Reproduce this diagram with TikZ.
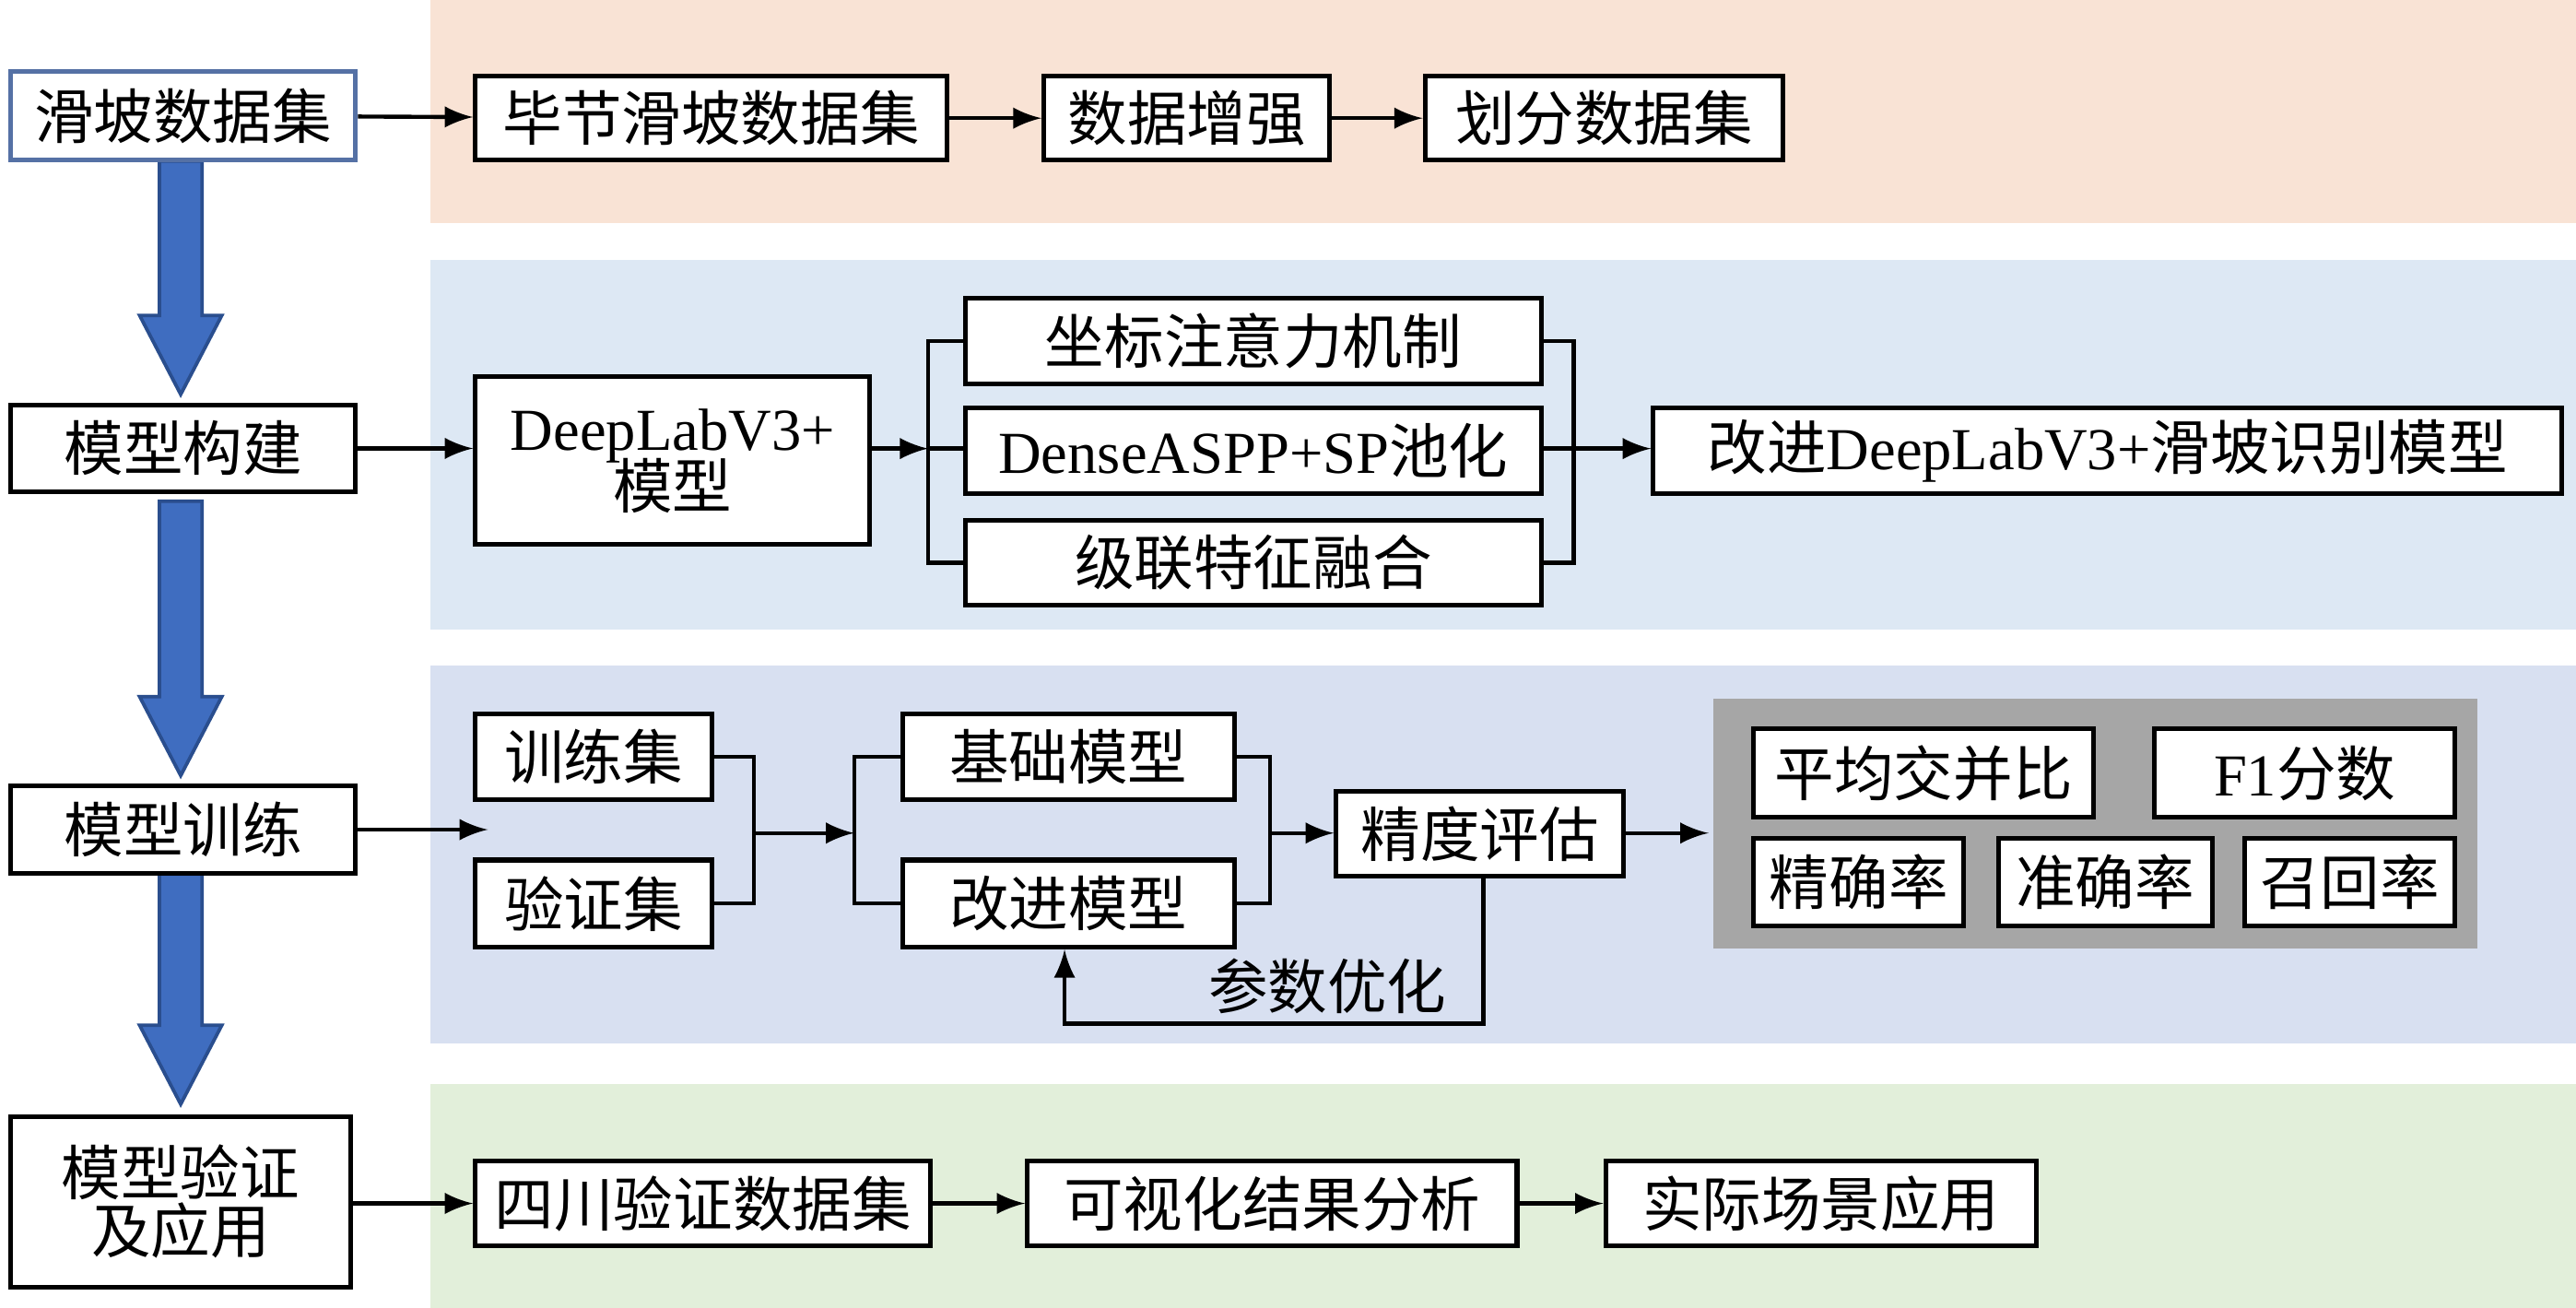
\documentclass[tikz,border=0pt]{standalone}
\usepackage{fontspec}
\setmainfont{Noto Sans CJK SC}
\newfontfamily\lat{Liberation Serif}
\usetikzlibrary{shapes.arrows}
\definecolor{bandO}{HTML}{F9E3D5}
\definecolor{bandB}{HTML}{DDE8F4}
\definecolor{bandL}{HTML}{D8E0F1}
\definecolor{bandG}{HTML}{E2EFDA}
\definecolor{bigA}{HTML}{3F6DC0}
\definecolor{bigAb}{HTML}{2A4E8E}
\begin{document}
\begin{tikzpicture}[x=0.01cm,y=-0.01cm,
  box/.style={draw=black,line width=0.8pt,fill=white,inner sep=0pt,font=\fontsize{10.3}{12}\selectfont,align=center},
  ar/.style={-latex,line width=0.7pt},
  ln/.style={line width=0.7pt},
  big/.style={fill=bigA,draw=bigAb,line width=0.6pt}]
\useasboundingbox (0,0) rectangle (1568,796);
\fill[bandO] (262,0) rectangle (1568,136);
\fill[bandB] (262,158) rectangle (1568,383);
\fill[bandL] (262,405) rectangle (1568,635);
\fill[bandG] (262,660) rectangle (1568,796);
% big arrows
\foreach \a/\b in {98/240,305/472,532/672}{
  \fill[big] (97,\a) -- (123,\a) -- (123,\b-48) -- (135,\b-48) -- (110,\b) -- (85,\b-48) -- (97,\b-48) -- cycle;}
% left boxes
\newcommand{\bx}[6]{\node[box,minimum width={(#4-#2)*0.01cm},minimum height={(#5-#3)*0.01cm},anchor=north west] (#1) at (#2,#3) {#6};}
\node[box,draw=bigAb!80,minimum width=2.1cm,minimum height=0.54cm,anchor=north west] (L1) at (5,42) {滑坡数据集};
\bx{L2}{5}{245}{215}{298}{模型构建}
\bx{L3}{5}{477}{215}{530}{模型训练}
\bx{L4}{5}{678}{212}{782}{模型验证\\[-2pt]及应用}
% row1
\bx{a1}{288}{45}{575}{96}{毕节滑坡数据集}
\bx{a2}{634}{45}{808}{96}{数据增强}
\bx{a3}{866}{45}{1084}{96}{划分数据集}
\draw[ar] (L1) -- (a1); \draw[ar] (a1) -- (a2); \draw[ar] (a2) -- (a3);
% row2
\bx{b0}{288}{228}{528}{330}{{\lat DeepLabV3+}\\[-2pt]模型}
\bx{b1}{586}{180}{937}{232}{坐标注意力机制}
\bx{b2}{586}{247}{937}{299}{{\lat DenseASPP+SP}池化}
\bx{b3}{586}{315}{937}{367}{级联特征融合}
\bx{b4}{1005}{247}{1558}{299}{改进{\lat DeepLabV3+}滑坡识别模型}
\coordinate (bl) at (565,273); \coordinate (br) at (958,273);
\draw[ar] (L2.east) -- (b0.west|-L2.east);
\draw[ar] (b0.east|-bl) -- (bl);
\draw[ln] (b1.west) -| (bl) |- (b3.west); \draw[ln] (bl) -- (bl-|b2.west);
\draw[ln] (b1.east) -| (br) |- (b3.east); \draw[ln] (br-|b2.east) -- (br);
\draw[ar] (br) -- (br-|b4.west);
% row3
\bx{c1}{288}{433}{432}{485}{训练集}
\bx{c2}{288}{522}{432}{575}{验证集}
\coordinate (cA) at (297,503.5);
\draw[ar] (L3.east) -- (L3.east-|cA);
\coordinate (cb) at (459,507); \coordinate (cl) at (520,507);
\draw[ln] (c1.east) -| (cb) |- (c2.east);
\draw[ar] (cb) -- (cl);
\bx{c3}{548}{433}{750}{485}{基础模型}
\bx{c4}{548}{522}{750}{575}{改进模型}
\draw[ln] (c3.west) -| (cl) |- (c4.west);
\coordinate (cr) at (773,507);
\draw[ln] (c3.east) -| (cr) |- (c4.east);
\bx{c5}{812}{480}{987}{532}{精度评估}
\draw[ar] (cr) -- (cr-|c5.west);
\fill[black!35] (1043,425) rectangle (1508,577);
\coordinate (gp) at (1040,507);
\draw[ar] (c5.east|-gp) -- (gp);
\bx{d1}{1066}{442}{1273}{496}{平均交并比}
\bx{d2}{1310}{442}{1493}{496}{{\lat F1}分数}
\bx{d3}{1066}{509}{1194}{562}{精确率}
\bx{d4}{1215}{509}{1345}{562}{准确率}
\bx{d5}{1365}{509}{1493}{562}{召回率}
\coordinate (fb) at (903,623);
\draw[ar] (903,532) -- (fb) -| (c4.south-|648,0);
\node[font=\fontsize{10.3}{12}\selectfont] (po) at (808,600) {参数优化};
% row4
\bx{e1}{288}{705}{565}{757}{四川验证数据集}
\bx{e2}{624}{705}{922}{757}{可视化结果分析}
\bx{e3}{976}{705}{1238}{757}{实际场景应用}
\draw[ar] (L4.east|-e1.west) -- (e1.west);
\draw[ar] (e1) -- (e2); \draw[ar] (e2) -- (e3);
\end{tikzpicture}
\end{document}
